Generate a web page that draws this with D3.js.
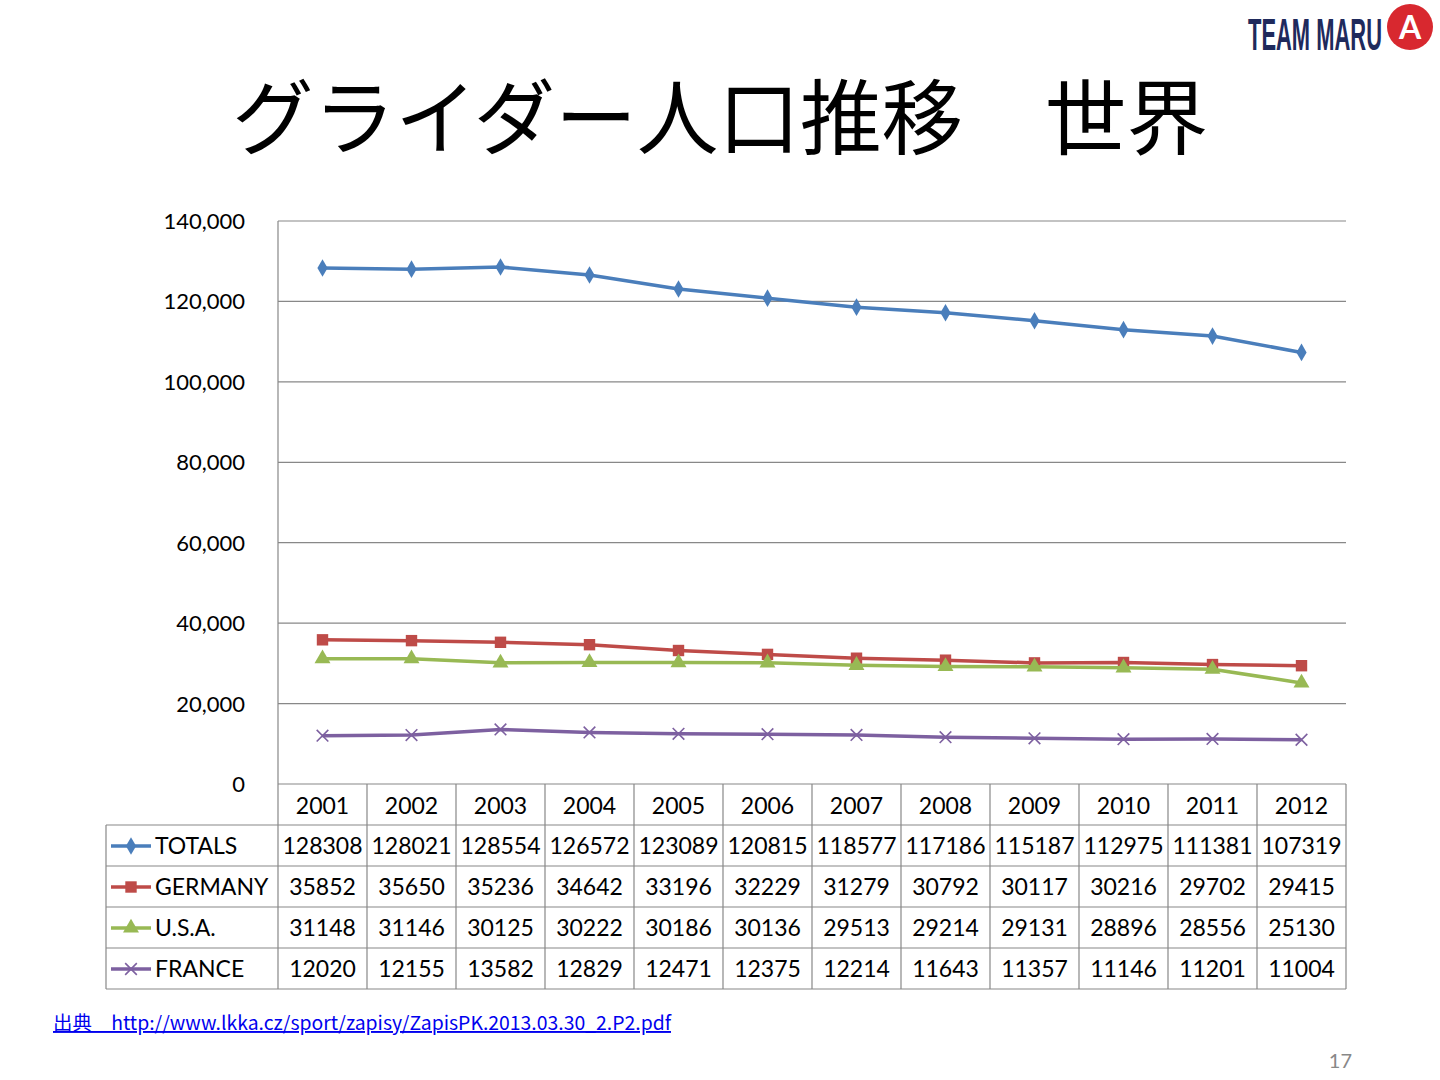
<!DOCTYPE html>
<html><head><meta charset="utf-8">
<script src="https://cdn.jsdelivr.net/npm/d3@7"></script>
<style>body{margin:0;background:#fff}</style>
</head><body>
<svg id="c" width="1440" height="1080"></svg>
<script>
const years = ["2001","2002","2003","2004","2005","2006","2007","2008","2009","2010","2011","2012"];
const seriesNames = ["TOTALS","GERMANY","U.S.A.","FRANCE"];
const totals = [128308,128021,128554,126572,123089,120815,118577,117186,115187,112975,111381,107319];
const germany = [35852,35650,35236,34642,33196,32229,31279,30792,30117,30216,29702,29415];
const usa = [31148,31146,30125,30222,30186,30136,29513,29214,29131,28896,28556,25130];
const france = [12020,12155,13582,12829,12471,12375,12214,11643,11357,11146,11201,11004];
const yTicks = [0,20000,40000,60000,80000,100000,120000,140000];

const series = [
  {name: seriesNames[0], values: totals, color: "#4a7ebb", sym: "diamond"},
  {name: seriesNames[1], values: germany, color: "#be4b48", sym: "square"},
  {name: seriesNames[2], values: usa, color: "#98b954", sym: "triangle"},
  {name: seriesNames[3], values: france, color: "#7d60a0", sym: "cross"}
];

const svg = d3.select("#c");
const font = "Lato, 'Liberation Sans', sans-serif";
const plotLeft = 278, plotRight = 1346, plotTop = 221, plotBottom = 784;
const rowH = 41;

const x = d3.scaleBand().domain(years).range([plotLeft, plotRight]);
const y = d3.scaleLinear().domain([0, 140000]).range([plotBottom, plotTop]);

// title
svg.append("text").attr("x", 720).attr("y", 148).attr("text-anchor", "middle")
  .style("font-family", "'Noto Sans CJK JP', sans-serif").style("font-size", "82px")
  .attr("textLength", 976).attr("lengthAdjust", "spacingAndGlyphs")
  .text("グライダー人口推移\u3000世界");

// logo
svg.append("text").attr("x", 1248).attr("y", 50)
  .style("font-family", "'Liberation Sans Narrow', 'Liberation Sans', sans-serif")
  .style("font-weight", "bold").style("font-size", "44px").attr("fill", "#1f2a5c")
  .attr("textLength", 134).attr("lengthAdjust", "spacingAndGlyphs").text("TEAM MARU");
svg.append("circle").attr("cx", 1410).attr("cy", 27).attr("r", 23).attr("fill", "#d8282f");
svg.append("text").attr("x", 1410).attr("y", 39).attr("text-anchor", "middle")
  .style("font-family", font).style("font-weight", "bold").style("font-size", "32px")
  .attr("fill", "#fff").text("A");

// gridlines
svg.append("g").selectAll("line").data(yTicks.slice(1)).join("line")
  .attr("x1", plotLeft).attr("x2", plotRight).attr("y1", d => y(d)).attr("y2", d => y(d))
  .attr("stroke", "#888").attr("stroke-width", 1.2);
svg.append("line").attr("x1", plotLeft).attr("x2", plotLeft).attr("y1", plotTop).attr("y2", plotBottom)
  .attr("stroke", "#888").attr("stroke-width", 1.2);

// y axis labels
svg.append("g").selectAll("text").data(yTicks).join("text")
  .attr("x", 245).attr("y", d => y(d) + 8).attr("text-anchor", "end")
  .style("font-family", font).style("font-size", "22px")
  .text(d => d3.format(",")(d));

function drawSym(g, s, cx, cy) {
  if (s.sym === "cross") {
    g.append("path").attr("d", d3.symbol(d3.symbolTimes, 90)())
      .attr("transform", `translate(${cx},${cy})`).attr("stroke", s.color)
      .attr("stroke-width", 1.6).attr("fill", "none");
  } else {
    const t = s.sym === "diamond" ? d3.symbolDiamond : s.sym === "square" ? d3.symbolSquare : d3.symbolTriangle;
    const size = s.sym === "diamond" ? 90 : s.sym === "square" ? 130 : 110;
    g.append("path").attr("d", d3.symbol(t, size)())
      .attr("transform", `translate(${cx},${cy})`).attr("fill", s.color);
  }
}

// lines
const line = d3.line().x((d, i) => x(years[i]) + x.bandwidth() / 2).y(d => y(d));
series.forEach(s => {
  svg.append("path").datum(s.values).attr("d", line).attr("fill", "none")
    .attr("stroke", s.color).attr("stroke-width", 3.5);
  const g = svg.append("g");
  s.values.forEach((v, i) => {
    drawSym(g, s, x(years[i]) + x.bandwidth() / 2, y(v));
  });
});

// data table
const tg = svg.append("g").attr("stroke", "#888").attr("stroke-width", 1.2);
const tableLeft = 106;
const tBottom = plotBottom + rowH * 5;
for (let r = 0; r <= 5; r++) {
  const yy = plotBottom + r * rowH;
  tg.append("line").attr("x1", r === 0 ? plotLeft : tableLeft).attr("x2", plotRight).attr("y1", yy).attr("y2", yy);
}
years.forEach(yr => {
  tg.append("line").attr("x1", x(yr)).attr("x2", x(yr)).attr("y1", plotBottom).attr("y2", tBottom);
});
tg.append("line").attr("x1", plotRight).attr("x2", plotRight).attr("y1", plotBottom).attr("y2", tBottom);
tg.append("line").attr("x1", tableLeft).attr("x2", tableLeft).attr("y1", plotBottom + rowH).attr("y2", tBottom);

svg.append("g").selectAll("text").data(years).join("text")
  .attr("x", d => x(d) + x.bandwidth() / 2).attr("y", plotBottom + 30).attr("text-anchor", "middle")
  .style("font-family", font).style("font-size", "23px").text(d => d);

series.forEach((s, r) => {
  const yy = plotBottom + (r + 1) * rowH;
  svg.append("line").attr("x1", 111).attr("x2", 151).attr("y1", yy + 21).attr("y2", yy + 21)
    .attr("stroke", s.color).attr("stroke-width", 3.5);
  drawSym(svg, s, 131, yy + 21);
  svg.append("text").attr("x", 155).attr("y", yy + 29)
    .style("font-family", font).style("font-size", "23px").text(s.name);
  svg.append("g").selectAll("text").data(s.values).join("text")
    .attr("x", (d, i) => x(years[i]) + x.bandwidth() / 2).attr("y", yy + 29).attr("text-anchor", "middle")
    .style("font-family", font).style("font-size", "23px").text(d => d);
});

// source
svg.append("text").attr("x", 53).attr("y", 1030)
  .style("font-family", "'Noto Sans CJK JP', sans-serif").style("font-size", "19px")
  .attr("fill", "#0000ee").attr("text-decoration", "underline")
  .attr("textLength", 618).attr("lengthAdjust", "spacingAndGlyphs")
  .text("出典\u3000http://www.lkka.cz/sport/zapisy/ZapisPK.2013.03.30_2.P2.pdf");

svg.append("text").attr("x", 1352).attr("y", 1068).attr("text-anchor", "end")
  .style("font-family", font).style("font-size", "20px").attr("fill", "#888").text("17");
</script>
</body></html>
